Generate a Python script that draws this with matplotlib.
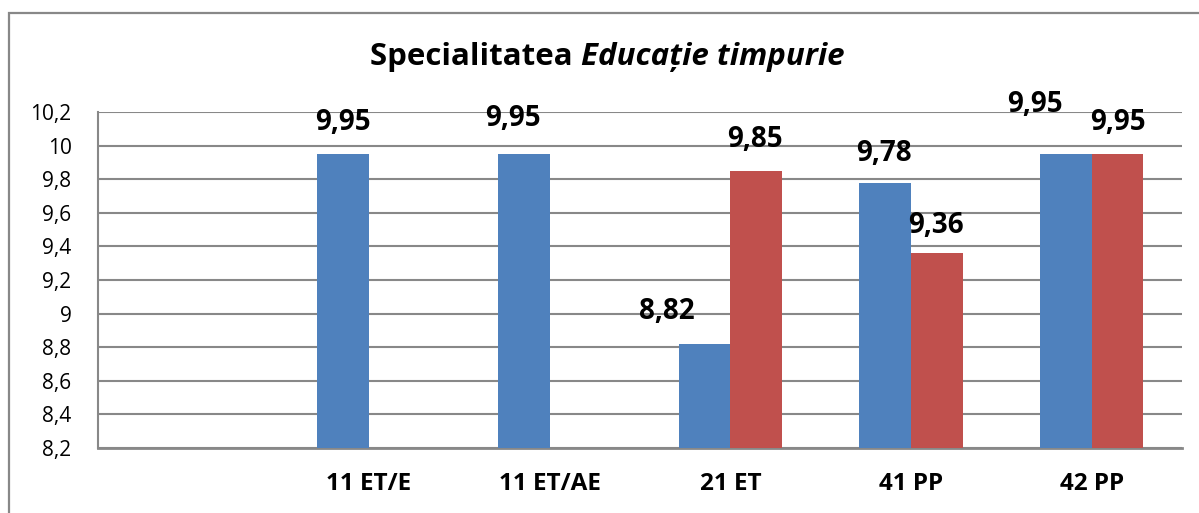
import numpy as np
import matplotlib

matplotlib.use("Agg")
import matplotlib.pyplot as plt
from matplotlib.patches import Rectangle

plt.rcParams["font.family"] = ["Open Sans", "DejaVu Sans"]

categorii = ["", "11 ET/E", "11 ET/AE", "21 ET", "41 PP", "42 PP"]
serie_albastra = [np.nan, 9.95, 9.95, 8.82, 9.78, 9.95]
serie_rosie = [np.nan, np.nan, np.nan, 9.85, 9.36, 9.95]
y_ticks = [8.2, 8.4, 8.6, 8.8, 9.0, 9.2, 9.4, 9.6, 9.8, 10.0, 10.2]
y_etichete = ["8,2", "8,4", "8,6", "8,8", "9", "9,2", "9,4", "9,6", "9,8", "10", "10,2"]

# deplasari manuale ale etichetelor (pixeli, fata de varful barei)
dep_albastra = [(0, 30), (0, 31), (-11, 35), (-38, 32), (-1, 29), (-31, 49)]
dep_rosie = [(0, 30), (0, 30), (0, 30), (-1, 31), (-1, 28), (0, 31)]

albastru = "#4F81BD"
rosu = "#C0504D"
gri = "#888888"

figura = plt.figure(figsize=(11.99, 5.13), dpi=100)
eje = figura.add_axes([98 / 1199, 1 - 448 / 513, 1084 / 1199, 336 / 513])

x = np.arange(len(categorii))
latime = 1 / 3.5
bare_a = eje.bar(x - latime / 2, serie_albastra, latime, bottom=0, color=albastru,
                 edgecolor="none", zorder=3)
bare_r = eje.bar(x + latime / 2, serie_rosie, latime, bottom=0, color=rosu,
                 edgecolor="none", zorder=3)

for bare, valori, dep in ((bare_a, serie_albastra, dep_albastra),
                          (bare_r, serie_rosie, dep_rosie)):
    for bara, v, (dx, dy) in zip(bare, valori, dep):
        if np.isnan(v):
            continue
        eje.annotate(f"{v:.2f}".replace(".", ","),
                     (bara.get_x() + bara.get_width() / 2, v),
                     xytext=(dx, dy), textcoords="offset pixels",
                     ha="center", va="center", fontsize=20,
                     fontweight="bold", zorder=4)

eje.set_xlim(-0.5, len(categorii) - 0.5)
eje.set_ylim(8.2, 10.2)
eje.set_yticks(y_ticks)
eje.set_yticklabels(y_etichete, fontsize=15)
eje.set_xticks(x)
eje.set_xticklabels(categorii, fontsize=17.5, fontweight="bold")
eje.tick_params(axis="y", length=0, pad=19)
eje.tick_params(axis="x", length=0, pad=17)
eje.grid(axis="y", color=gri, linewidth=1.5, zorder=1)
for lado in ("top", "right"):
    eje.spines[lado].set_visible(False)
eje.spines["left"].set_color(gri)
eje.spines["left"].set_linewidth(1.5)
eje.spines["bottom"].set_color(gri)
eje.spines["bottom"].set_linewidth(2)

# chenarul exterior
figura.patches.append(Rectangle((8.5 / 1199, -0.2), 1.2, 1.2 - 12.5 / 513,
                                transform=figura.transFigure, fill=False,
                                edgecolor=gri, linewidth=1.6))

t1 = figura.text(370 / 1199, 1 - 57 / 513, "Specialitatea ", fontsize=22.5,
                 fontweight="bold", ha="left", va="center")
eje.annotate("Educație timpurie", xy=(1, 0), xycoords=t1, va="bottom", ha="left",
             fontsize=22.5, fontweight="bold", fontstyle="italic")

figura.savefig("out.png", dpi=100)
plt.close(figura)
